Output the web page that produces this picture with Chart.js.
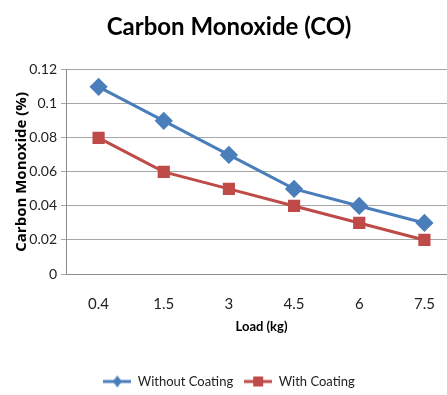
<!DOCTYPE html>
<html>
<head>
<meta charset="utf-8">
<script src="https://cdn.jsdelivr.net/npm/chart.js@4.4.1/dist/chart.umd.min.js"></script>
<style>
html,body{margin:0;padding:0;background:#fff;overflow:hidden;width:447px;height:395px;}
#wrap{width:467px;height:395px;position:relative;}
</style>
</head>
<body>
<div id="wrap"><canvas id="c" width="467" height="395"></canvas></div>
<script>
const categories = ["0.4", "1.5", "3", "4.5", "6", "7.5"];
const withoutCoating = [0.11, 0.09, 0.07, 0.05, 0.04, 0.03];
const withCoating = [0.08, 0.06, 0.05, 0.04, 0.03, 0.02];
const seriesNames = ["Without Coating", "With Coating"];
const yTicks = {min: 0, max: 0.12, step: 0.02};

const BLUE = '#4A7EBB', RED = '#BE4B48';
const FONT = 'Lato, "Open Sans", sans-serif';

function legendIcon(color, style) {
  const cv = document.createElement('canvas');
  cv.width = 28; cv.height = 14;
  const g = cv.getContext('2d');
  g.strokeStyle = color; g.lineWidth = 3;
  g.beginPath(); g.moveTo(0, 7); g.lineTo(28, 7); g.stroke();
  g.fillStyle = color;
  if (style === 'diamond') {
    g.beginPath(); g.moveTo(14, 1); g.lineTo(18.5, 7); g.lineTo(14, 13); g.lineTo(9.5, 7); g.closePath(); g.fill();
  } else {
    g.fillRect(9, 2, 10, 10);
  }
  return cv;
}
const icons = [legendIcon(BLUE, 'diamond'), legendIcon(RED, 'square')];

new Chart(document.getElementById('c'), {
  type: 'line',
  data: {
    labels: categories,
    datasets: [
      {label: seriesNames[0], data: withoutCoating, borderColor: BLUE, backgroundColor: BLUE,
       borderWidth: 3, pointStyle: 'rectRot', pointRadius: 7, pointHoverRadius: 7, tension: 0},
      {label: seriesNames[1], data: withCoating, borderColor: RED, backgroundColor: RED,
       borderWidth: 3, pointStyle: 'rect', pointRadius: 6.5, pointHoverRadius: 6.5, tension: 0}
    ]
  },
  options: {
    responsive: false,
    animation: false,
    layout: {padding: {left: 0, right: 9, top: 0, bottom: -3}},
    plugins: {
      title: {display: true, text: 'Carbon Monoxide (CO)', color: '#000',
        font: {family: FONT, size: 24, weight: 'bold'}, padding: {top: 13, bottom: 28}},
      legend: {position: 'bottom',
        labels: {usePointStyle: true, pointStyleWidth: 28, color: '#222', font: {family: FONT, size: 13}, padding: 11,
          generateLabels: (chart) => chart.data.datasets.map((d, i) => ({
            text: d.label, pointStyle: icons[i], fillStyle: d.borderColor, strokeStyle: d.borderColor,
            lineWidth: 0, datasetIndex: i, hidden: false, fontColor: '#222'
          }))}},
      tooltip: {enabled: false}
    },
    scales: {
      x: {
        offset: true,
        grid: {display: false, drawTicks: false, offset: true},
        border: {display: true, color: '#8a8a8a', width: 1},
        ticks: {color: '#222', font: {family: FONT, size: 15}, padding: 21, maxRotation: 0},
        title: {display: true, text: 'Load (kg)', color: '#000', font: {family: FONT, size: 13, weight: 'bold'}, padding: {top: 4, bottom: 29}},
        afterFit: (s) => { s.height = 90; }
      },
      y: {
        min: yTicks.min, max: yTicks.max,
        grid: {color: '#a6a6a6', lineWidth: 1, tickLength: 5, drawTicks: true},
        border: {display: true, color: '#8a8a8a', width: 1},
        ticks: {stepSize: yTicks.step, color: '#222', font: {family: FONT, size: 14}, padding: 4,
          callback: (v) => String(Number(v.toFixed(2)))},
        title: {display: true, text: 'Carbon Monoxide (%)', color: '#000', font: {family: '"Open Sans", sans-serif', size: 15, weight: 'bold'}, padding: {top: 13, bottom: 0}},
        afterFit: (s) => { s.width = 66; }
      }
    }
  }
});
</script>
</body>
</html>
